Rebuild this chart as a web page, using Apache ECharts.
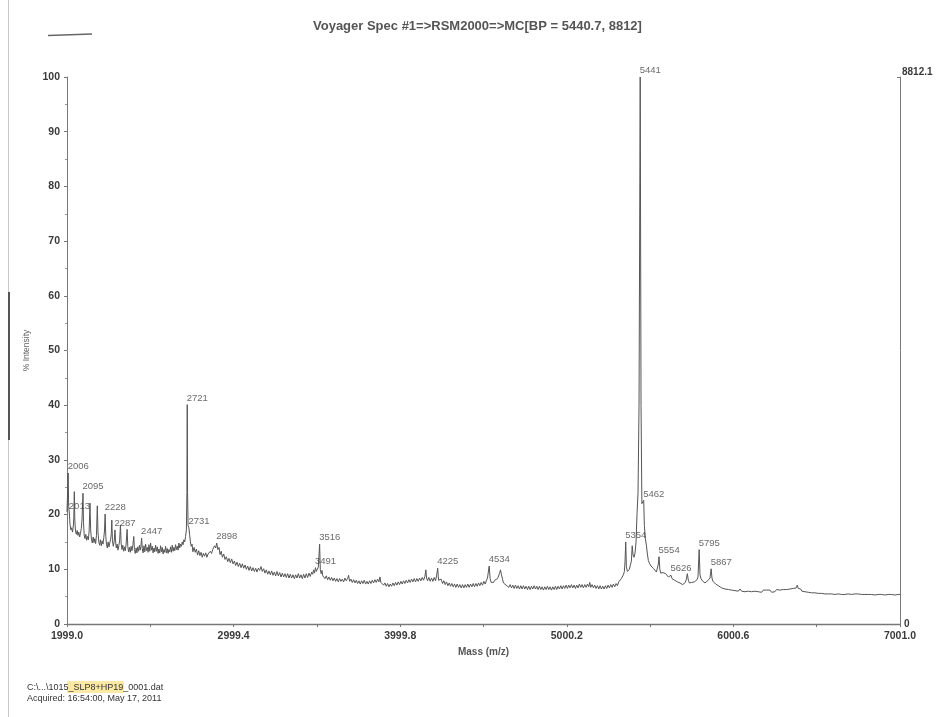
<!DOCTYPE html>
<html>
<head>
<meta charset="utf-8">
<title>Voyager Spec #1</title>
<script src="https://cdn.jsdelivr.net/npm/echarts@6/dist/echarts.min.js"></script>
<style>
  html, body { margin: 0; padding: 0; background: #fff; }
  #chart { width: 940px; height: 717px; }
</style>
</head>
<body>
<div id="chart"></div>
<script>
// Spectrum trace, [mass (m/z), % intensity], split by mass range.
const lowMassTrace = [
  [1999, 20.5], [2002, 23.5], [2009, 21.5], [2017, 18.2], [2022, 17.2], [2027, 17.6], [2032, 16.8],
  [2037, 17.9], [2040, 19.5], [2043, 24.2], [2046, 19.0], [2050, 17.0], [2055, 16.4], [2060, 17.1],
  [2065, 16.2], [2070, 16.8], [2075, 15.9], [2080, 16.6], [2085, 17.5], [2089, 19.0], [2098, 18.6],
  [2102, 16.3], [2107, 15.6], [2112, 16.4], [2117, 15.3], [2122, 16.0], [2127, 15.4], [2132, 17.0],
  [2137, 22.1], [2141, 17.2], [2146, 15.5], [2151, 14.8], [2156, 15.9], [2161, 14.9], [2166, 15.6],
  [2171, 14.7], [2176, 16.2], [2181, 21.6], [2185, 16.8], [2190, 15.0], [2195, 14.4], [2200, 15.4],
  [2205, 14.3], [2210, 15.2], [2215, 14.6], [2220, 15.8], [2224, 17.0], [2232, 16.0], [2236, 14.6],
  [2241, 13.9], [2246, 15.0], [2251, 14.1], [2256, 14.8], [2261, 15.5], [2265, 16.5], [2268, 19.0],
  [2272, 15.2], [2277, 14.2], [2282, 15.0], [2291, 15.0], [2295, 13.9], [2300, 14.6], [2305, 13.5],
  [2310, 14.3], [2315, 15.2], [2320, 18.1], [2324, 14.8], [2329, 13.6], [2334, 14.4], [2339, 13.3],
  [2344, 14.1], [2349, 13.4], [2354, 14.6], [2360, 17.3], [2364, 14.2], [2369, 13.2], [2374, 14.0],
  [2379, 13.1], [2384, 14.2], [2389, 13.4], [2395, 14.5], [2400, 16.0], [2404, 13.6], [2409, 12.9],
  [2414, 13.9], [2419, 13.0], [2424, 14.1], [2429, 13.3], [2434, 14.4], [2439, 13.5], [2443, 14.2],
  [2451, 13.8], [2456, 13.0], [2461, 14.3], [2466, 13.2], [2471, 14.6], [2476, 13.4], [2481, 14.0],
  [2486, 13.1], [2491, 14.5], [2496, 13.3], [2501, 14.8], [2506, 13.5], [2511, 14.2], [2516, 13.0],
  [2521, 13.9], [2526, 13.2], [2531, 14.4], [2536, 13.3], [2541, 14.1], [2546, 12.9], [2551, 13.7],
  [2556, 13.0], [2561, 14.3], [2566, 13.2], [2571, 14.0], [2576, 12.8], [2581, 13.6], [2586, 13.1],
  [2591, 14.2], [2596, 13.0], [2601, 13.8], [2606, 12.9], [2611, 13.6], [2616, 13.2], [2621, 14.1],
  [2626, 13.1], [2631, 14.4], [2636, 13.3], [2641, 14.0], [2646, 13.4], [2651, 14.5], [2656, 13.6],
  [2661, 14.2], [2666, 13.5], [2671, 14.8], [2676, 13.9], [2681, 14.6], [2686, 14.2], [2691, 15.0],
  [2696, 14.5], [2701, 15.4], [2706, 15.0], [2711, 16.0], [2716, 17.2], [2719, 24.0], [2723, 24.0],
  [2726, 18.0], [2735, 16.4], [2740, 15.0], [2745, 14.2], [2750, 14.6]
];

const midMassTrace = [
  [2755, 13.2], [2762, 14.0], [2769, 13.1], [2776, 13.7], [2783, 12.6], [2790, 13.4], [2797, 12.5],
  [2804, 13.1], [2811, 12.2], [2818, 12.9], [2825, 12.4], [2832, 13.0], [2839, 12.2], [2846, 12.8],
  [2853, 12.5], [2860, 13.3], [2867, 12.9], [2874, 13.6], [2880, 13.8], [2885, 14.3], [2892, 13.9],
  [2905, 13.6], [2912, 14.0], [2918, 12.7], [2925, 13.3], [2932, 12.2], [2940, 12.8], [2948, 11.8],
  [2956, 12.3], [2964, 11.4], [2972, 12.0], [2980, 11.2], [2988, 11.9], [2996, 11.0], [3004, 11.5],
  [3012, 10.7], [3020, 11.3], [3028, 10.5], [3036, 11.1], [3044, 10.3], [3052, 11.0], [3060, 10.2],
  [3068, 10.8], [3076, 10.0], [3084, 10.6], [3092, 9.8], [3100, 10.5], [3108, 9.7], [3116, 10.3],
  [3124, 9.6], [3132, 10.2], [3140, 9.5], [3148, 10.2], [3156, 9.8], [3164, 10.5], [3172, 9.6],
  [3180, 10.1], [3188, 9.3], [3196, 9.9], [3204, 9.1], [3212, 9.7], [3220, 9.0], [3228, 9.7],
  [3236, 8.9], [3244, 9.5], [3252, 8.8], [3260, 9.6], [3268, 8.8], [3276, 9.4], [3284, 8.6],
  [3292, 9.3], [3300, 8.6], [3308, 9.2], [3316, 8.5], [3324, 9.2], [3332, 8.4], [3340, 9.1],
  [3348, 8.4], [3356, 9.0], [3364, 8.3], [3372, 9.0], [3380, 8.4], [3388, 9.2], [3396, 8.4],
  [3404, 9.0], [3412, 8.3], [3420, 9.1], [3428, 8.4], [3436, 9.2], [3444, 8.5], [3452, 9.3],
  [3460, 8.7], [3468, 9.5], [3474, 9.1], [3480, 9.9], [3485, 9.3], [3496, 9.6], [3502, 9.9],
  [3508, 10.4], [3520, 10.0], [3525, 9.2], [3530, 9.8], [3535, 8.8],
  [3540, 8.9], [3548, 8.3], [3556, 8.8], [3564, 8.1], [3572, 8.6], [3580, 8.0], [3588, 8.5],
  [3596, 7.9], [3604, 8.4], [3612, 7.8], [3620, 8.3], [3628, 7.7], [3636, 8.3], [3644, 7.8],
  [3652, 8.2], [3660, 7.7], [3668, 8.4], [3676, 7.9], [3684, 8.3], [3690, 8.9], [3696, 7.8],
  [3704, 8.2], [3712, 7.6], [3720, 8.1], [3728, 7.5], [3736, 8.0], [3744, 7.4], [3752, 7.9],
  [3760, 7.3], [3768, 7.9], [3776, 7.4], [3784, 8.0], [3792, 7.3], [3800, 7.8], [3808, 7.3],
  [3816, 7.9], [3824, 7.4], [3832, 8.0], [3840, 7.5], [3848, 8.1], [3856, 7.6], [3864, 8.2],
  [3872, 7.7], [3878, 8.6], [3884, 7.6], [3892, 7.8], [3900, 7.1], [3908, 7.5], [3916, 6.9],
  [3924, 7.4], [3932, 6.8], [3940, 7.3], [3948, 6.9], [3956, 7.5], [3964, 7.0], [3972, 7.6],
  [3980, 7.1], [3988, 7.7], [3996, 7.2], [4004, 7.8], [4012, 7.3], [4020, 7.9], [4028, 7.4],
  [4036, 8.0], [4044, 7.5], [4052, 8.1], [4060, 7.6], [4068, 8.2], [4076, 7.7], [4084, 8.3],
  [4092, 7.7], [4100, 8.3], [4108, 7.8], [4116, 8.4], [4124, 7.9], [4132, 8.5], [4140, 8.0],
  [4148, 8.7], [4154, 9.9], [4158, 8.4], [4164, 7.9], [4172, 8.5], [4180, 7.8], [4188, 8.4],
  [4196, 7.8], [4204, 8.5], [4212, 7.9], [4218, 8.8], [4230, 8.0], [4238, 7.7], [4246, 8.2],
  [4254, 7.4], [4262, 7.9], [4270, 7.2], [4278, 7.7], [4286, 7.0], [4294, 7.5], [4302, 6.9],
  [4310, 7.4], [4318, 6.8], [4326, 7.3], [4334, 6.7], [4342, 7.3], [4350, 6.7], [4358, 7.2],
  [4366, 6.6], [4374, 7.2], [4382, 6.6], [4390, 7.2], [4398, 6.7], [4406, 7.3], [4414, 6.7],
  [4422, 7.3], [4430, 6.8], [4438, 7.4], [4446, 6.8], [4454, 7.4], [4462, 6.9], [4470, 7.5],
  [4478, 7.0], [4486, 7.6], [4494, 7.1], [4502, 7.8], [4510, 7.3], [4518, 8.0], [4524, 8.4],
  [4540, 8.3], [4546, 7.6], [4552, 7.9], [4560, 7.6], [4568, 8.0], [4576, 7.7], [4584, 8.3],
  [4590, 8.5], [4596, 9.2], [4602, 9.9], [4608, 9.0], [4614, 8.2], [4620, 7.5], [4628, 7.8],
  [4636, 7.1], [4644, 7.4], [4652, 6.7], [4660, 7.2], [4668, 6.6], [4676, 7.1], [4684, 6.5],
  [4692, 7.1], [4700, 6.5], [4708, 7.0], [4716, 6.4], [4724, 7.0], [4732, 6.4], [4740, 7.0],
  [4748, 6.4], [4756, 6.9], [4764, 6.3], [4772, 6.9], [4780, 6.3], [4788, 6.9], [4796, 6.4],
  [4804, 7.0], [4812, 6.4], [4820, 6.9], [4828, 6.3], [4836, 6.9], [4844, 6.3], [4852, 6.8],
  [4860, 6.2], [4868, 6.8], [4876, 6.3], [4884, 6.9], [4892, 6.3], [4900, 6.8], [4908, 6.2],
  [4916, 6.8], [4924, 6.3], [4932, 6.9], [4940, 6.3], [4948, 6.9], [4956, 6.4], [4964, 7.0],
  [4972, 6.4], [4980, 7.0], [4988, 6.5], [4996, 7.1], [5004, 6.5], [5012, 7.1], [5020, 6.6],
  [5028, 7.2], [5036, 6.6], [5044, 7.1], [5052, 6.5], [5060, 7.1], [5068, 6.6], [5076, 7.3],
  [5084, 6.7], [5092, 7.2], [5100, 6.6], [5108, 7.2], [5116, 6.7], [5124, 7.3], [5132, 6.8],
  [5138, 7.6], [5144, 6.7], [5152, 7.2], [5160, 6.6], [5168, 7.1], [5176, 6.5], [5184, 7.0],
  [5192, 6.4], [5200, 7.0], [5208, 6.4], [5216, 6.9], [5224, 6.4], [5232, 7.0], [5240, 6.5],
  [5248, 7.1], [5256, 6.6], [5264, 7.2], [5272, 6.7], [5280, 7.3], [5288, 6.8], [5296, 7.4]
];

const basePeakCluster = [
  [5304, 7.0], [5312, 7.7], [5320, 7.5], [5328, 8.3], [5334, 8.2], [5340, 9.0], [5346, 9.6],
  [5350, 11.5], [5358, 10.5], [5364, 9.6], [5370, 9.5], [5376, 10.0], [5382, 10.8], [5388, 11.5],
  [5393, 14.3], [5398, 12.6], [5404, 12.2], [5410, 13.0], [5416, 15.0], [5422, 20.2], [5428, 24.0],
  [5434, 40.0], [5446, 40.0], [5451, 22.0], [5466, 18.0], [5472, 15.6], [5478, 14.4], [5484, 12.8],
  [5490, 11.6], [5498, 11.0], [5506, 10.6], [5514, 10.5], [5522, 10.1], [5530, 9.9], [5538, 9.5],
  [5545, 9.8], [5549, 10.8], [5559, 10.0], [5564, 9.3], [5570, 9.1], [5578, 9.4], [5586, 9.6],
  [5594, 9.2], [5602, 8.9], [5610, 8.6], [5617, 8.3], [5622, 8.5], [5632, 8.3], [5640, 8.1],
  [5648, 8.0], [5656, 7.8], [5664, 7.7], [5672, 7.6], [5680, 7.5], [5688, 7.3], [5696, 7.2],
  [5704, 7.3], [5712, 7.6], [5718, 8.2], [5724, 9.2], [5730, 8.0], [5736, 7.5], [5742, 7.4],
  [5750, 7.6], [5758, 7.8], [5766, 7.7], [5774, 7.9], [5782, 8.1], [5788, 8.6], [5800, 9.0],
  [5806, 8.3], [5814, 7.9], [5822, 7.6], [5830, 7.5], [5838, 7.7], [5846, 7.9], [5854, 8.0],
  [5860, 8.4], [5872, 8.4], [5878, 7.8], [5886, 7.6], [5894, 7.3], [5902, 7.1], [5910, 7.0]
];

const highMassTrace = [
  [5920, 6.8], [5930, 6.6], [5940, 6.7], [5950, 6.4], [5960, 6.6], [5970, 6.3], [5980, 6.5],
  [5990, 6.2], [6000, 6.4], [6010, 6.1], [6020, 6.3], [6030, 6.0], [6040, 6.4], [6050, 6.0],
  [6060, 6.2], [6070, 5.9], [6080, 6.2], [6090, 6.0], [6100, 6.3], [6110, 5.9], [6120, 6.2],
  [6130, 6.0], [6140, 6.3], [6150, 5.9], [6160, 6.1], [6170, 5.8], [6180, 6.2], [6190, 5.9],
  [6200, 6.2], [6210, 6.0], [6220, 6.2], [6230, 5.8], [6240, 6.1], [6250, 5.9], [6260, 6.3],
  [6270, 6.0], [6280, 6.2], [6290, 5.9], [6300, 6.3], [6310, 6.0], [6320, 6.3], [6330, 6.0],
  [6340, 6.4], [6350, 6.1], [6360, 6.5], [6370, 6.2], [6378, 6.6], [6384, 7.1], [6390, 6.5],
  [6396, 6.2], [6404, 6.4], [6412, 6.0], [6420, 6.2], [6430, 5.9], [6440, 6.0], [6450, 5.8],
  [6460, 6.0], [6470, 5.7], [6480, 5.9], [6490, 5.7], [6500, 5.9], [6510, 5.6], [6520, 5.8],
  [6530, 5.6], [6540, 5.8], [6550, 5.5], [6560, 5.8], [6570, 5.5], [6580, 5.7], [6590, 5.5],
  [6600, 5.7], [6610, 5.4], [6620, 5.7], [6630, 5.5], [6640, 5.7], [6650, 5.4], [6660, 5.6],
  [6670, 5.4], [6680, 5.6], [6690, 5.5], [6700, 5.7], [6710, 5.4], [6720, 5.6], [6730, 5.5],
  [6740, 5.7], [6750, 5.5], [6760, 5.6], [6770, 5.4], [6780, 5.6], [6790, 5.4], [6800, 5.6],
  [6810, 5.4], [6820, 5.6], [6830, 5.4], [6840, 5.5], [6850, 5.3], [6860, 5.5], [6870, 5.4],
  [6880, 5.6], [6890, 5.4], [6900, 5.5], [6910, 5.3], [6920, 5.5], [6930, 5.4], [6940, 5.6],
  [6950, 5.4], [6960, 5.5], [6970, 5.3], [6980, 5.5], [6990, 5.4], [7001, 5.4]
];

// Annotated peaks: [mass, % intensity]; the label text is the peak mass.
const labelledPeaks = [
  [2006, 27.6], [2013, 20.3], [2095, 23.9], [2228, 20.1], [2287, 17.2], [2447, 15.7],
  [2721, 40.1], [2731, 17.6], [2898, 14.8], [3491, 10.3], [3516, 14.6], [4225, 10.2],
  [4534, 10.6], [5354, 15.0], [5441, 100.0], [5462, 22.6], [5554, 12.3], [5626, 8.9],
  [5795, 13.6], [5867, 10.1]
];

// Axis ticks and labels
const massTickLabels = [1999.0, 2999.4, 3999.8, 5000.2, 6000.6, 7001.0];
const massTicks = [1999.0, 2499.2, 2999.4, 3499.6, 3999.8, 4500.0, 5000.2, 5500.4, 6000.6, 6500.8, 7001.0];
const countsTickLabels = [0, 8812.1];

const spectrum = lowMassTrace.concat(midMassTrace, basePeakCluster, highMassTrace, labelledPeaks)
  .sort((a, b) => a[0] - b[0]);

const FONT = 'Liberation Sans, Arial, Helvetica, sans-serif';
const chart = echarts.init(document.getElementById('chart'));

chart.setOption({
  animation: false,
  backgroundColor: '#ffffff',
  title: {
    text: 'Voyager Spec #1=>RSM2000=>MC[BP = 5440.7, 8812]',
    left: 313,
    top: 20,
    padding: 0,
    textStyle: { fontFamily: FONT, fontSize: 13, fontWeight: 'bold', color: '#555' }
  },
  grid: { left: 67, right: 40, top: 77, bottom: 93 },
  xAxis: {
    type: 'value',
    min: 1999.0,
    max: 7001.0,
    name: 'Mass (m/z)',
    nameLocation: 'middle',
    nameGap: 23,
    nameTextStyle: { fontFamily: FONT, fontSize: 10, fontWeight: 'bold', color: '#555' },
    axisLine: { show: true, onZero: false, lineStyle: { color: '#777', width: 1.3 } },
    axisTick: { show: true, customValues: massTicks, length: 3, lineStyle: { color: '#777' } },
    axisLabel: {
      customValues: massTickLabels,
      formatter: v => v.toFixed(1),
      margin: 7,
      fontFamily: FONT, fontSize: 10.5, fontWeight: 'bold', color: '#3a3a3a'
    },
    splitLine: { show: false }
  },
  yAxis: [
    {
      type: 'value',
      min: 0,
      max: 100,
      interval: 10,
      name: '% Intensity',
      nameLocation: 'middle',
      nameGap: 24,
      nameTextStyle: { fontFamily: FONT, fontSize: 8.5, color: '#666' },
      axisLine: { show: true, lineStyle: { color: '#777', width: 1 } },
      axisTick: { show: true, length: 3, lineStyle: { color: '#777' } },
      minorTick: { show: true, splitNumber: 2, length: 2, lineStyle: { color: '#999' } },
      axisLabel: { margin: 7, fontFamily: FONT, fontSize: 10.5, fontWeight: 'bold', color: '#3a3a3a' },
      splitLine: { show: false }
    },
    {
      type: 'value',
      position: 'right',
      min: 0,
      max: 8812.1,
      axisLine: { show: true, lineStyle: { color: '#777', width: 1 } },
      axisTick: { show: true, inside: true, customValues: countsTickLabels, length: 3, lineStyle: { color: '#777' } },
      axisLabel: {
        customValues: countsTickLabels,
        formatter: v => (v === 0 ? '{zero|0}' : v.toFixed(1)),
        margin: 2,
        verticalAlign: 'bottom',
        fontFamily: FONT, fontSize: 10, fontWeight: 'bold', color: '#3a3a3a',
        rich: { zero: { fontFamily: FONT, fontSize: 10, fontWeight: 'bold', color: '#3a3a3a', padding: [0, 0, -5, 2] } }
      },
      splitLine: { show: false }
    }
  ],
  series: [
    {
      name: 'Spectrum',
      type: 'line',
      data: spectrum,
      showSymbol: false,
      symbol: 'none',
      lineStyle: { color: '#555', width: 1 },
      z: 3
    },
    {
      name: 'Peak labels',
      type: 'scatter',
      data: labelledPeaks,
      symbolSize: 1,
      itemStyle: { color: 'rgba(0,0,0,0)' },
      label: {
        show: true,
        position: [0, -1],
        align: 'left',
        verticalAlign: 'bottom',
        formatter: p => String(Math.round(p.value[0])),
        fontFamily: FONT,
        fontSize: 9.5,
        color: '#444'
      },
      z: 4
    }
  ],
  graphic: [
    // page edge and pen stroke on the printout
    { type: 'line', shape: { x1: 8.5, y1: 0, x2: 8.5, y2: 717 }, style: { stroke: '#c8c8c8', lineWidth: 1 } },
    { type: 'line', shape: { x1: 9, y1: 292, x2: 9, y2: 440 }, style: { stroke: '#555', lineWidth: 2 } },
    { type: 'line', shape: { x1: 48, y1: 35.5, x2: 92, y2: 34 }, style: { stroke: '#666', lineWidth: 1.5 } },
    // file name and acquisition stamp
    { type: 'rect', shape: { x: 67, y: 681, width: 57, height: 12 }, style: { fill: 'rgba(250, 215, 90, 0.55)' } },
    {
      type: 'text', x: 27, y: 688,
      style: { text: 'C:\\...\\1015_SLP8+HP19_0001.dat', font: '9px ' + FONT, fill: '#333', verticalAlign: 'middle' }
    },
    {
      type: 'text', x: 27, y: 699,
      style: { text: 'Acquired: 16:54:00, May 17, 2011', font: '9px ' + FONT, fill: '#333', verticalAlign: 'middle' }
    }
  ]
});
</script>
</body>
</html>
